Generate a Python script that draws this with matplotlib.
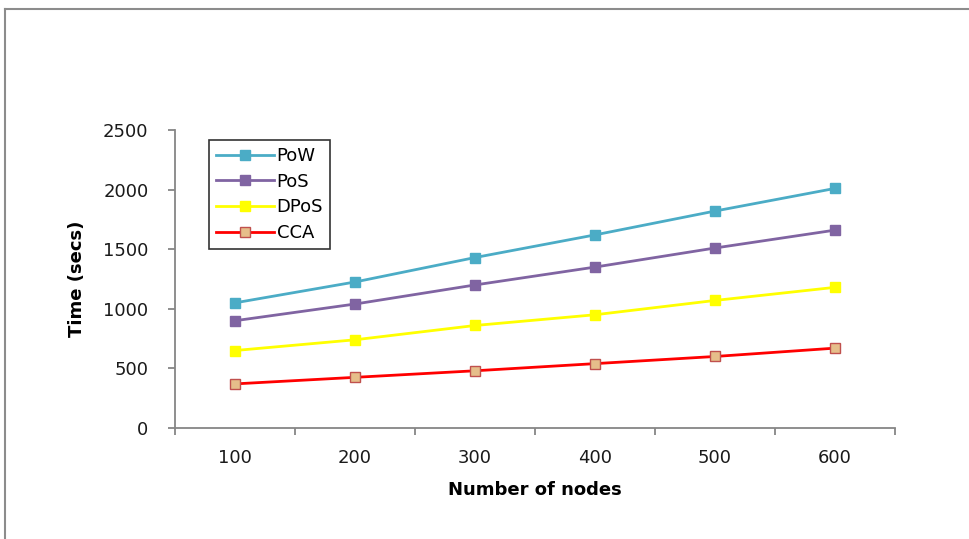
import matplotlib
matplotlib.use("Agg")
import matplotlib.pyplot as plt
from matplotlib.lines import Line2D
import numpy as np

# data
nodes = ["100", "200", "300", "400", "500", "600"]
pow_time = [1050, 1225, 1430, 1620, 1820, 2010]
pos_time = [900, 1040, 1200, 1350, 1510, 1660]
dpos_time = [650, 740, 860, 950, 1070, 1180]
cca_time = [370, 425, 480, 540, 600, 670]
y_ticks = [0, 500, 1000, 1500, 2000, 2500]

plt.rcParams['font.family'] = ['DejaVu Sans']

W, H = 970, 539
fig = plt.figure(figsize=(W / 100, H / 100), dpi=100)
ax = fig.add_axes([175 / W, 1 - 428 / H, 720 / W, 298 / H])

x = np.arange(len(nodes))
ax.plot(x, pow_time, '-s', color='#4BACC6', lw=2, ms=7, label='PoW')
ax.plot(x, pos_time, '-s', color='#8064A2', lw=2, ms=7, label='PoS')
ax.plot(x, dpos_time, '-s', color='#FFFF00', lw=2, ms=7, label='DPoS')
ax.plot(x, cca_time, '-s', color='#FF0000', lw=2, ms=7,
        markerfacecolor='#E6BE8A', markeredgecolor='#C0504D', markeredgewidth=1,
        label='CCA')

ax.set_xlim(-0.5, len(nodes) - 0.5)
ax.set_ylim(0, 2500)
ax.set_yticks(y_ticks)
ax.set_xticks(np.arange(-0.5, len(nodes)), labels=[])
ax.set_xticks(x, labels=nodes, minor=True)

for side in ['top', 'right']:
    ax.spines[side].set_visible(False)
for side in ['left', 'bottom']:
    ax.spines[side].set_color('#868686')
    ax.spines[side].set_linewidth(1.3)

ax.tick_params(axis='y', which='major', length=5, width=1.3, color='#868686',
               labelsize=13, labelcolor='#1a1a1a', pad=14)
ax.tick_params(axis='x', which='major', length=5, width=1.3, color='#868686')
ax.tick_params(axis='x', which='minor', length=0, labelsize=13,
               labelcolor='#1a1a1a', pad=15)

ax.set_ylabel('Time (secs)', fontsize=13, fontweight='bold', labelpad=12)
ax.set_xlabel('Number of nodes', fontsize=13, fontweight='bold', labelpad=10)

leg = ax.legend(loc='upper left', bbox_to_anchor=(34 / 720, 1 - 10 / 298),
                fontsize=13, frameon=True, fancybox=False, handlelength=3.2,
                borderpad=0.4, labelspacing=0.42, handletextpad=0.15,
                borderaxespad=0)
leg.get_frame().set_edgecolor('black')
leg.get_frame().set_linewidth(1.2)

# outer gray frame (top and left edges visible)
fig.add_artist(Line2D([5 / W, 1], [1 - 9 / H, 1 - 9 / H], color='#8c8c8c', lw=1.5))
fig.add_artist(Line2D([5 / W, 5 / W], [0, 1 - 9 / H], color='#8c8c8c', lw=1.5))

fig.savefig('out.png', dpi=100)
